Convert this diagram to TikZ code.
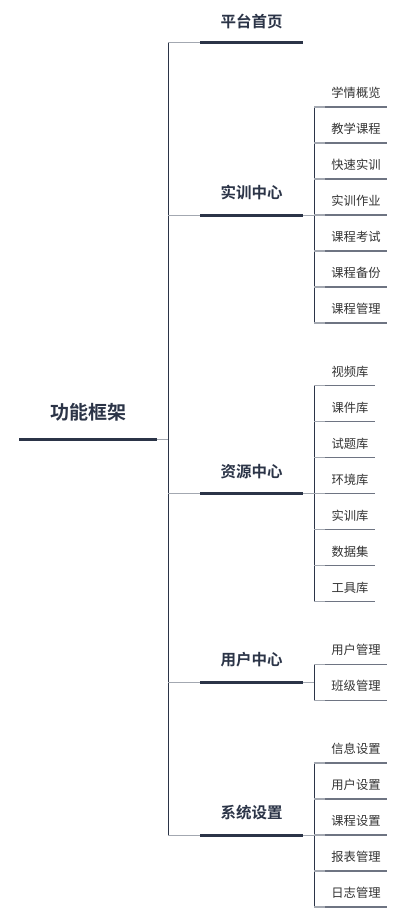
\documentclass[tikz,border=0pt]{standalone}
\usepackage{fontspec}
\setmainfont{Noto Sans CJK SC}[BoldFont={Noto Sans CJK SC Bold}]
\usepackage{tikz}

\definecolor{navy}{HTML}{2B3447}
\definecolor{linkgrey}{HTML}{A3A8B1}
\definecolor{leafgrey}{HTML}{6E7482}
\definecolor{inkgrey}{HTML}{333333}

\tikzset{
  rootlabel/.style={font=\bfseries\fontsize{19}{19}\selectfont, text=navy, inner sep=0pt},
  toplabel/.style={font=\bfseries\fontsize{15.5}{15.5}\selectfont, text=navy, inner sep=0pt},
  leaflabel/.style={font=\fontsize{12.3}{12.3}\selectfont, text=inkgrey, inner sep=0pt},
  thickbar/.style={draw=navy, line width=3pt},
  leafbar/.style={draw=leafgrey, line width=1.4pt},
  leafstub/.style={draw=linkgrey, line width=1.4pt},
  link/.style={draw=linkgrey, line width=1pt},
  trunk/.style={draw=navy, line width=1pt}
}

\begin{document}
\begin{tikzpicture}[x=1pt,y=-1pt]
	\useasboundingbox (0,0) rectangle (415,915);
	
	% Root
	\node[rootlabel] (root) at (88,412) {功能框架};
	\coordinate (root-l) at (19,439);
	\coordinate (root-r) at (157,439);
	\coordinate (root-t) at (168,439);
	\draw[thickbar] (root-l) -- (root-r);
	\draw[link] (root-r) -- (root-t);
	
	% Main trunk
	\coordinate (trunk-top) at (168,43);
	\coordinate (trunk-bot) at (168,835);
	\draw[trunk] (trunk-top) -- (trunk-bot);
	
	% First level branches
	\foreach \y/\name/\txt in {43/home/平台首页, 215/train/实训中心, 493.7/res/资源中心, 682/user/用户中心, 835/sys/系统设置}
	{
		\coordinate (\name-a) at (168,\y);
		\coordinate (\name-b) at (200,\y);
		\coordinate (\name-c) at (303,\y);
		\coordinate (\name-d) at (314,\y);
		\node[toplabel] (\name) at (251.5,\y-22) {\txt};
		\draw[link] (\name-a) -- (\name-b);
		\draw[thickbar] (\name-b) -- (\name-c);
	}
	
	% Links to the leaf columns
	\foreach \name in {train,res,user,sys}
	\draw[link] (\name-c) -- (\name-d);
	
	% Leaf columns
	\coordinate (train-top) at (314,107);
	\coordinate (train-bot) at (314,323);
	\coordinate (res-top) at (314,385.7);
	\coordinate (res-bot) at (314,601.7);
	\coordinate (user-top) at (314,664.3);
	\coordinate (user-bot) at (314,700.3);
	\coordinate (sys-top) at (314,763);
	\coordinate (sys-bot) at (314,907);
	\foreach \name in {train,res,user,sys}
	\draw[trunk] (\name-top) -- (\name-bot);
	
	% Leaves: y / end of bar / name / label
	\foreach \y/\e/\name/\txt in {
		107/387/tr1/学情概览, 143/387/tr2/教学课程, 179/387/tr3/快速实训, 215/387/tr4/实训作业,
		251/387/tr5/课程考试, 287/387/tr6/课程备份, 323/387/tr7/课程管理,
		385.7/375/rs1/视频库, 421.7/375/rs2/课件库, 457.7/375/rs3/试题库, 493.7/375/rs4/环境库,
		529.7/375/rs5/实训库, 565.7/375/rs6/数据集, 601.7/375/rs7/工具库,
		664.3/387/us1/用户管理, 700.3/387/us2/班级管理,
		763/387/sy1/信息设置, 799/387/sy2/用户设置, 835/387/sy3/课程设置,
		871/387/sy4/报表管理, 907/387/sy5/日志管理}
	{
		\coordinate (\name-a) at (314,\y);
		\coordinate (\name-b) at (325,\y);
		\coordinate (\name-c) at (\e,\y);
		\node[leaflabel] (\name) at ({(325+\e)/2},\y-14) {\txt};
		\draw[leafstub] (\name-a) -- (\name-b);
		\draw[leafbar] (\name-b) -- (\name-c);
	}
\end{tikzpicture}
\end{document}
